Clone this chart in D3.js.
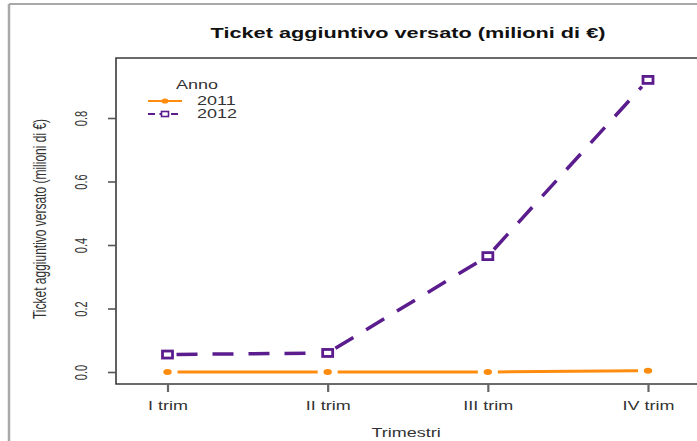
<!DOCTYPE html>
<html><head><meta charset="utf-8">
<script src="https://cdn.jsdelivr.net/npm/d3@7"></script>
<style>html,body{margin:0;padding:0;background:#fff;overflow:hidden}svg{display:block}</style>
</head><body>
<svg id="c" width="697" height="441"></svg>
<script>
const categories = ["I trim", "II trim", "III trim", "IV trim"];
const series2011 = [0.0, 0.0, 0.0, 0.004];
const series2012 = [0.055, 0.06, 0.365, 0.92];
const yTicks = [0.0, 0.2, 0.4, 0.6, 0.8];
const yTickLabels = ["0.0", "0.2", "0.4", "0.6", "0.8"];
const legendTitle = "Anno";
const seriesNames = ["2011", "2012"];
const titleText = "Ticket aggiuntivo versato (milioni di €)";
const xTitle = "Trimestri";
const yTitle = "Ticket aggiuntivo versato (milioni di €)";

const ORANGE = "#ff8c0f", PURPLE = "#5b1c8e";
const SX = 1.5;
const svg = d3.select("#c");
const font = "'Liberation Sans', Arial, sans-serif";

// outer frame (screenshot border)
svg.append("line").attr("x1", 9).attr("x2", 697).attr("y1", 4).attr("y2", 4).attr("stroke", "#a9a9a9").attr("stroke-width", 2);
svg.append("line").attr("x1", 9).attr("x2", 9).attr("y1", 4).attr("y2", 441).attr("stroke", "#a9a9a9").attr("stroke-width", 2.5);

const x = d3.scalePoint().domain(categories).range([167.5, 648]);
const y = d3.scaleLinear().domain([0, 0.8]).range([372, 118]);

const L = 116, B = 384, T = 58;
svg.append("path").attr("d", `M703,${T}H${L}V${B}H703`).attr("fill", "none").attr("stroke", "#3a3a3a").attr("stroke-width", 1.6);

// y axis
const ya = svg.append("g").attr("transform", `translate(${L},0)`)
  .call(d3.axisLeft(y).tickValues(yTicks).tickSize(8).tickFormat((d, i) => yTickLabels[i]));
ya.select(".domain").remove();
ya.selectAll(".tick line").attr("stroke", "#555").attr("stroke-width", 1.6);
ya.selectAll(".tick text").attr("x", null).attr("dy", null).attr("text-anchor", "middle")
  .attr("font-family", font).attr("font-size", 11).attr("fill", "#333")
  .attr("transform", `translate(-29,0) scale(${SX},1) rotate(-90)`);

// x axis
const xa = svg.append("g").attr("transform", `translate(0,${B})`)
  .call(d3.axisBottom(x).tickSize(8).tickPadding(0));
xa.select(".domain").remove();
xa.selectAll(".tick line").attr("stroke", "#666").attr("stroke-width", 2.2);
xa.selectAll(".tick text").attr("y", null).attr("dy", null).attr("text-anchor", "middle")
  .attr("font-family", font).attr("font-size", 12).attr("fill", "#333")
  .attr("transform", `translate(0,26) scale(${SX},1)`);

// titles
svg.append("text").attr("transform", `translate(408,38) scale(1.55,1)`).attr("text-anchor", "middle")
  .attr("font-family", font).attr("font-weight", "bold").attr("font-size", 14).attr("fill", "#111").text(titleText);
svg.append("text").attr("transform", `translate(406,437) scale(${SX},1)`).attr("text-anchor", "middle")
  .attr("font-family", font).attr("font-size", 12).attr("fill", "#333").text(xTitle);
svg.append("text").attr("transform", `translate(46,219) scale(${SX},1) rotate(-90)`).attr("text-anchor", "middle")
  .attr("font-family", font).attr("font-size", 12).attr("fill", "#333").text(yTitle);

function drawSeries(vals, color, width, dash, gap) {
  const pts = vals.map((v, i) => [x(categories[i]), y(v)]);
  const g = svg.append("g");
  for (let i = 0; i < pts.length - 1; i++) {
    const [x0, y0] = pts[i], [x1, y1] = pts[i + 1];
    const len = Math.hypot(x1 - x0, y1 - y0);
    const ux = (x1 - x0) / len, uy = (y1 - y0) / len;
    g.append("path").attr("d", d3.line()([[x0 + ux * gap, y0 + uy * gap], [x1 - ux * gap, y1 - uy * gap]]))
      .attr("stroke", color).attr("stroke-width", width).attr("fill", "none")
      .attr("stroke-dasharray", dash);
  }
  return pts;
}
const p11 = drawSeries(series2011, ORANGE, 3, null, 10);
const p12 = drawSeries(series2012, PURPLE, 3.5, "21,15", 9);

svg.append("g").selectAll("ellipse").data(p11).join("ellipse")
  .attr("cx", d => d[0]).attr("cy", d => d[1]).attr("rx", 4.2).attr("ry", 3).attr("fill", ORANGE);
svg.append("g").selectAll("rect").data(p12).join("rect")
  .attr("x", d => d[0] - 5).attr("y", d => d[1] - 3.5).attr("width", 10).attr("height", 7)
  .attr("fill", "#fff").attr("stroke", PURPLE).attr("stroke-width", 2.8);

// legend
const lg = svg.append("g");
lg.append("text").attr("transform", `translate(197,89) scale(${SX},1)`).attr("text-anchor", "middle")
  .attr("font-family", font).attr("font-size", 12).attr("fill", "#333").text(legendTitle);
const legY = [101, 114];
const legColors = [ORANGE, PURPLE];
seriesNames.forEach((n, i) => {
  lg.append("line").attr("x1", 148).attr("x2", 182).attr("y1", legY[i]).attr("y2", legY[i])
    .attr("stroke", legColors[i]).attr("stroke-width", i ? 2.2 : 2)
    .attr("stroke-dasharray", i ? "7,4.5" : null);
  if (i === 0) lg.append("ellipse").attr("cx", 165).attr("cy", legY[i]).attr("rx", 3.5).attr("ry", 2.6).attr("fill", ORANGE);
  else lg.append("rect").attr("x", 161.5).attr("y", legY[i] - 2.5).attr("width", 7).attr("height", 5)
    .attr("fill", "#fff").attr("stroke", PURPLE).attr("stroke-width", 1.6);
  lg.append("text").attr("transform", `translate(197,${legY[i] + 4}) scale(${SX},1)`)
    .attr("font-family", font).attr("font-size", 12).attr("fill", "#333").text(n);
});
</script>
</body></html>
